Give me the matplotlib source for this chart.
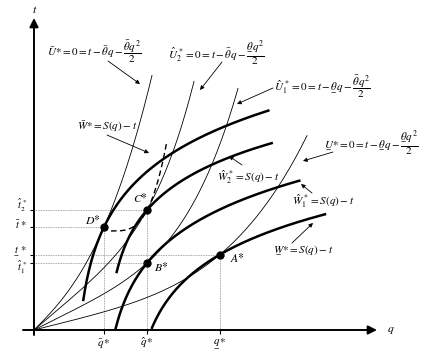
import numpy as np
import matplotlib
matplotlib.use('Agg')
import matplotlib.pyplot as plt

plt.rcParams['mathtext.fontset'] = 'stix'
plt.rcParams['font.family'] = 'STIXGeneral'

# equilibrium points (q, t)
pt_names = ['D', 'C', 'B', 'A']
pt_q = [70, 113, 113, 186]
pt_t = [103, 120, 67, 75.5]

# thin zero-utility curves: t = a*q + b*q**p, going through a point
iso_a = [1.0, 0.85, 0.5, 0.25]
iso_p = [2.72, 4.45, 4.38, 3.83]
iso_qmax = [118, 160, 204, 273]

# thick welfare curves: t = t_pt + A*ln((q-q0)/(q_pt-q0))
w_q0 = [40, 71, 67.5, 96]
w_A = [62.3, 48.5, 56, 52]
w_qmin = [49.3, 82.7, 81.7, 118]
w_qmax = [234.3, 237.7, 265.3, 291]

# dashed locus: q = q_s + B*(t-t_s)**r
dash_qs, dash_ts, dash_B, dash_r, dash_tmax = 77, 99, 14.5, 0.30, 188

q_ticks = [70, 113, 186]
q_labels = [r'$\bar{q}\,{*}$', r'$\hat{q}\,{*}$', r'$\underset{-}{q}\,{*}$']
t_ticks = [120, 103, 75.5, 67]
t_labels = [r'$\hat{t}_2^{\,*}$', r'$\bar{t}\;{*}$', r'$\underset{-}{t}\;{*}$', r'$\hat{t}_1^{\,*}$']

fig = plt.figure(figsize=(4.34, 3.59), dpi=100)
ax = fig.add_axes([0, 0, 1, 1])
ax.set_xlim(-34, 400)
ax.set_ylim(-29, 330)
ax.axis('off')

# guide lines
gcol = '#8a8a8a'
ax.hlines(t_ticks[0], 0, pt_q[1], color=gcol, lw=0.6, ls=(0, (1, 1)))
ax.hlines(t_ticks[1], 0, pt_q[0], color=gcol, lw=0.6, ls=(0, (1, 1)))
ax.hlines(t_ticks[2], 0, pt_q[3], color=gcol, lw=0.6, ls=(0, (1, 1)))
ax.hlines(t_ticks[3], 0, pt_q[2], color=gcol, lw=0.6, ls=(0, (1, 1)))
ax.vlines(pt_q[0], 0, pt_t[0], color=gcol, lw=0.6, ls=(0, (1, 1)))
ax.vlines(pt_q[1], 0, pt_t[1], color=gcol, lw=0.6, ls=(0, (1, 1)))
ax.vlines(pt_q[3], 0, pt_t[3], color=gcol, lw=0.6, ls=(0, (1, 1)))

# thin curves
for i in range(4):
    a, p = iso_a[i], iso_p[i]
    b = (pt_t[i] - a * pt_q[i]) / pt_q[i] ** p
    q = np.linspace(0, iso_qmax[i], 200)
    ax.plot(q, a * q + b * q ** p, color='black', lw=0.6)

# thick curves
for i in range(4):
    q = np.linspace(w_qmin[i], w_qmax[i], 200)
    t = pt_t[i] + w_A[i] * np.log((q - w_q0[i]) / (pt_q[i] - w_q0[i]))
    ax.plot(q, t, color='black', lw=1.8)

# dashed locus
tt = np.linspace(dash_ts, dash_tmax, 300)
ax.plot(dash_qs + dash_B * (tt - dash_ts) ** dash_r, tt, color='black', lw=1.0,
        ls=(0, (4, 2.5)))

# points
ax.plot(pt_q, pt_t, 'o', color='black', ms=5, zorder=5)
fs = 8.5
ax.text(59, 110, r'$D{*}$', fontsize=fs, ha='center', va='center')
ax.text(106, 131.7, r'$C{*}$', fontsize=fs, ha='center', va='center')
ax.text(127, 62.7, r'$B{*}$', fontsize=fs, ha='center', va='center')
ax.text(203, 71.7, r'$A{*}$', fontsize=fs, ha='center', va='center')

# axes
ax.annotate('', xy=(0, 312), xytext=(0, -5),
            arrowprops=dict(arrowstyle='-|>', color='black', lw=1.4, mutation_scale=13,
                            shrinkA=0, shrinkB=0))
ax.annotate('', xy=(343, 0), xytext=(-11, 0),
            arrowprops=dict(arrowstyle='-|>', color='black', lw=1.4, mutation_scale=13,
                            shrinkA=0, shrinkB=0))
ax.text(1, 320, r'$t$', fontsize=fs, ha='center', va='center')
ax.text(357, 0, r'$q$', fontsize=fs, ha='center', va='center')

ax.vlines(q_ticks, -4, 0, color='black', lw=0.8)
ax.hlines(t_ticks, -4, 0, color='black', lw=0.8)
for q, lab in zip(q_ticks, q_labels):
    ax.text(q, -13, lab, fontsize=8, ha='center', va='center')
for t, lab, dy in zip(t_ticks, t_labels, [5, 2, 4, -4]):
    ax.text(-7, t + dy, lab, fontsize=7.5, ha='right', va='center')

# curve labels with arrows
fl = 8
labels = [
    (r'$\bar{U}{*} = 0 = t - \bar{\theta}q - \dfrac{\bar{\theta}q^2}{2}$', 12.7, 278, (74, 269), (106, 246)),
    (r'$\hat{U}_2^{\,*} = 0 = t - \bar{\theta}q - \dfrac{\underset{-}{\theta}q^2}{2}$', 134, 277, (188, 268), (166, 240)),
    (r'$\hat{U}_1^{\,*} = 0 = t - \underset{-}{\theta}q - \dfrac{\bar{\theta}q^2}{2}$', 240, 243.3, (239, 242), (203, 226)),
    (r'$\underset{-}{U}{*} = 0 = t - \underset{-}{\theta}q - \dfrac{\underset{-}{\theta}q^2}{2}$', 290, 186.7, (299, 178), (269, 169)),
    (r'$\bar{W}{*} = S(q) - t$', 42.7, 203.3, (73, 195), (115, 177)),
    (r'$\hat{W}_2^{\,*} = S(q) - t$', 183.3, 152.7, (208, 165), (195, 174)),
    (r'$\hat{W}_1^{\,*} = S(q) - t$', 257.7, 128.3, (278, 137), (267, 146)),
    (r'$\underset{-}{W}{*} = S(q) - t$', 238.7, 80, (258, 87), (279, 107)),
]
for txt, x, y, tail, head in labels:
    ax.text(x, y, txt, fontsize=fl, ha='left', va='center')
    ax.annotate('', xy=head, xytext=tail,
                arrowprops=dict(arrowstyle='-|>', color='black', lw=0.6, mutation_scale=6,
                                shrinkA=0, shrinkB=0))

fig.savefig('out.png', dpi=100)
